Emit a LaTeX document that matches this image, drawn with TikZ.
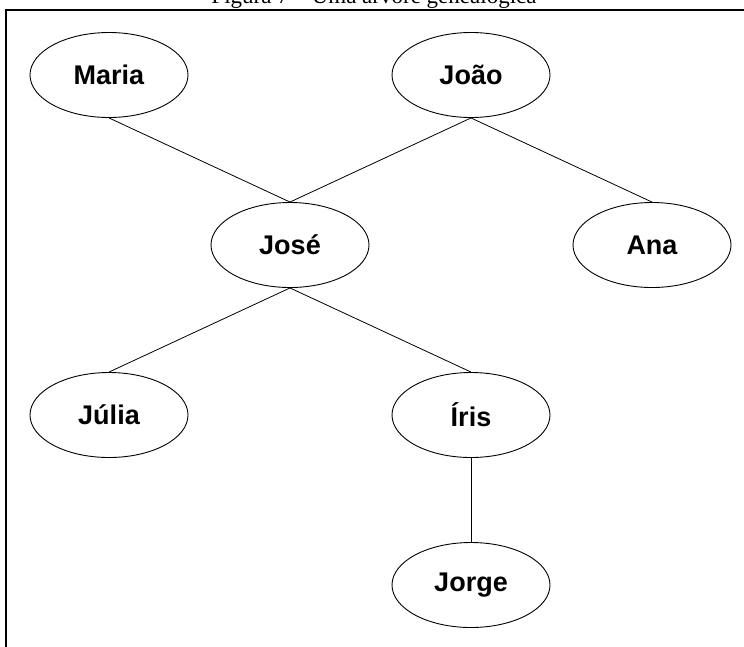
\documentclass[tikz,border=0pt]{standalone}
\usepackage{fontspec}
\setmainfont{Liberation Serif}
\newfontfamily\labelfont{Liberation Sans}
\newfontfamily\titlefont{Liberation Serif}
\usetikzlibrary{shapes.geometric}
\tikzset{
  person/.style={ellipse, draw, line width=0.9pt, minimum width=158pt, minimum height=85pt, inner sep=0pt,
    font=\labelfont\bfseries\fontsize{27}{30}\selectfont},
  link/.style={draw, line width=0.8pt},
  frameline/.style={draw, line width=2.4pt},
  titletext/.style={anchor=base, inner sep=0pt}
}
\begin{document}
\begin{tikzpicture}[x=1pt,y=-1pt]
\useasboundingbox (0,0) rectangle (744,646);
\clip (0,0) rectangle (744,646);
\node[titletext] (title) at (374,3.5) {\titlefont\fontsize{23}{27}\selectfont Figura 7 – Uma árvore genealógica};
\coordinate (fA) at (760,10);
\coordinate (fB) at (6,10);
\coordinate (fC) at (6,660);
\draw[frameline] (fA) -- (fB) -- (fC);
\node[person] (maria) at (109,75) {Maria};
\node[person] (joao) at (471,75) {João};
\node[person] (jose) at (290,245) {José};
\node[person] (ana) at (652,245) {Ana};
\node[person] (julia) at (109,415) {Júlia};
\node[person] (iris) at (471,415) {Íris};
\node[person] (jorge) at (471,585) {Jorge};
\draw[link] (maria.south) -- (jose.north);
\draw[link] (joao.south) -- (jose.north);
\draw[link] (joao.south) -- (ana.north);
\draw[link] (jose.south) -- (julia.north);
\draw[link] (jose.south) -- (iris.north);
\draw[link] (iris.south) -- (jorge.north);
\end{tikzpicture}
\end{document}
